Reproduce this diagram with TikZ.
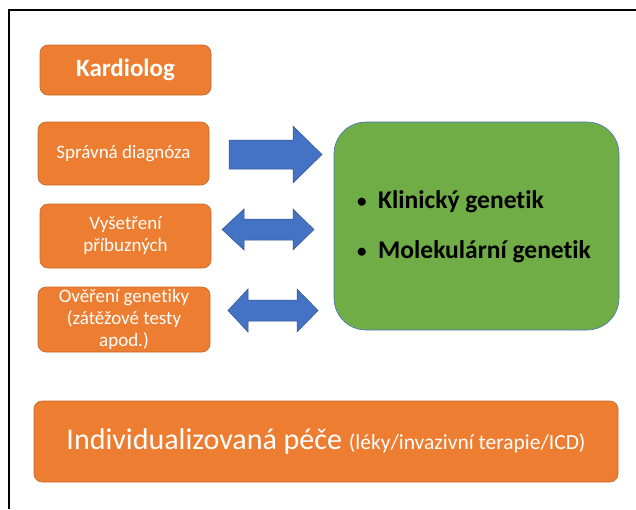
\documentclass[tikz,border=0pt]{standalone}
\usepackage{fontspec}
\setmainfont{Carlito}[Ligatures=NoCommon]
\usepackage{tikz}
\usetikzlibrary{positioning}
\definecolor{colororange}    {RGB}{237,125,49 }
\definecolor{colororangeline}{RGB}{196,104,42 }
\definecolor{colorblue}      {RGB}{68 ,114,196}
\definecolor{colorblueline}  {RGB}{47 ,82 ,143}
\definecolor{colorgreen}     {RGB}{112,173,71 }
\definecolor{colortext}      {RGB}{0  ,0  ,0  }
\newcommand{\itembullet}{\makebox[21pt][l]{\raisebox{1pt}{\fontsize{19}{20}\selectfont\textbullet}}}

\begin{document}
\begin{tikzpicture}[
    x=1pt, y=-1pt,
    base/.style={text=white,align=center,rectangle,rounded corners=8pt,
                 fill=colororange,draw=colororangeline,line width=0.6pt,inner sep=0pt},
    role/.style={base,font={\fontsize{25}{30}\selectfont\bfseries}},
    task/.style={base,font={\fontsize{19}{22}\selectfont}},
    team/.style={rectangle,rounded corners=32pt,fill=colorgreen,draw=colorblue,line width=0.6pt},
    item/.style={text=colortext,font={\fontsize{25.5}{30}\selectfont\bfseries},align=left,
                 anchor=base west,inner sep=0pt},
    arrowbox/.style={fill=colorblue,draw=colorblueline,line width=0.5pt,line join=miter},
]

    % Frame
    \useasboundingbox (0,0) rectangle (636,509);
    \draw[line width=1.4pt] (8,10) -- (636,10);
    \draw[line width=1.4pt] (9,10) -- (9,509);

    % Nodes
    \node[role,minimum width=171pt,minimum height=50pt] (kardiolog) at (125.5,70) {Kardiolog};
    \node[task,minimum width=171pt,minimum height=63pt] (diagnoza)  at (123.5,153.5) {Správná diagnóza};
    \node[task,minimum width=171pt,minimum height=64pt] (pribuzni)  at (125.5,236) {Vyšetření\\příbuzných};
    \node[task,minimum width=172pt,minimum height=65pt] (overeni)   at (124,319.5) {Ověření genetiky\\(zátěžové testy\\apod.)};
    \node[team,minimum width=285pt,minimum height=208pt] (genetik)  at (476.5,226) {};
    \node[base,minimum width=584pt,minimum height=81pt] (pece) at (326,441.5)
        {\fontsize{30}{36}\selectfont Individualizovaná péče \fontsize{21.5}{26}\selectfont(léky/invazivní terapie/ICD)};

    % Text
    \node[item] (klinicky)  at (357,208) {\itembullet Klinický genetik};
    \node[item] (molekular) at (357,258) {\itembullet Molekulární genetik};

    % Arrows
    \draw[arrowbox] (229,140) -- (293,140) -- (293,126) -- (322,154.5)
        -- (293,183) -- (293,169) -- (229,169) -- cycle;
    \draw[arrowbox] (222,229.5) -- (244,209) -- (244,219) -- (293,219) -- (293,209)
        -- (314,229.5) -- (293,250) -- (293,240) -- (244,240) -- (244,250) -- cycle;
    \draw[arrowbox] (228,310.5) -- (248,289) -- (248,300) -- (297,300) -- (297,289)
        -- (318,310.5) -- (297,332) -- (297,321) -- (248,321) -- (248,332) -- cycle;

\end{tikzpicture}
\end{document}
